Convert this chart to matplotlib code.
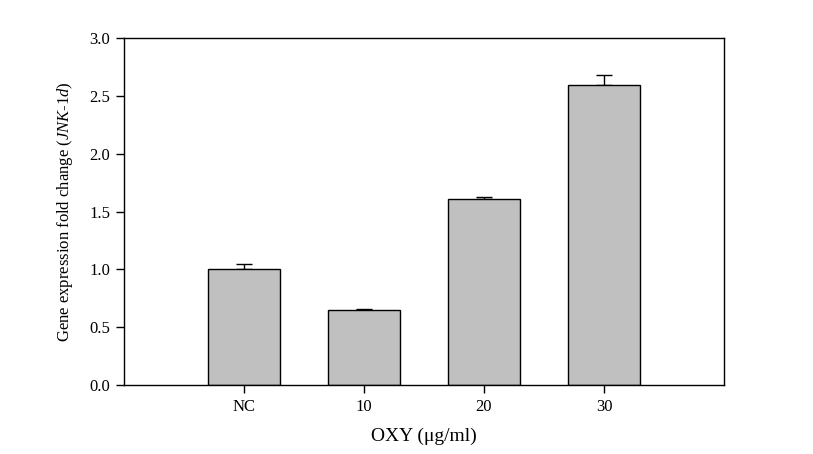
import numpy as np
import matplotlib.pyplot as plt

plt.rcParams['font.family'] = ['Liberation Serif', 'DejaVu Serif']
plt.rcParams['mathtext.fontset'] = 'custom'
plt.rcParams['mathtext.it'] = 'Liberation Serif:italic'
plt.rcParams['mathtext.rm'] = 'Liberation Serif'

categories = ["NC", "10", "20", "30"]
values = [1.00, 0.646, 1.606, 2.595]
errors = [0.05, 0.015, 0.018, 0.085]

fig = plt.figure(figsize=(8.13, 4.54), dpi=100)
ax = fig.add_axes([124 / 813, 1 - 385 / 454, 600 / 813, 347 / 454])

x = np.arange(len(categories))
ax.bar(x, values, 0.6, color="#c0c0c0", edgecolor="black", linewidth=1.0, zorder=2)
ax.errorbar(x, values, yerr=[np.zeros(len(errors)), errors], fmt="none",
            ecolor="black", elinewidth=1.0, capsize=6, capthick=1.0, zorder=1)

ax.set_xlim(-1, 4)
ax.set_ylim(0, 3.0)
ax.set_xticks(x)
ax.set_xticklabels(categories, fontsize=12)
ax.set_yticks(np.arange(0, 3.01, 0.5))
ax.set_yticklabels(["%.1f" % v for v in np.arange(0, 3.01, 0.5)], fontsize=12)
ax.tick_params(direction="out", length=6, width=1.0, top=False, right=False, pad=4)
for s in ax.spines.values():
    s.set_linewidth(1.0)

ax.set_xlabel("OXY (\u03bcg/ml)", fontsize=14, labelpad=9)
ax.set_ylabel("Gene expression fold change ($\\it{JNK}$-$\\it{1d}$)", fontsize=12, labelpad=10)

plt.savefig("out.png", dpi=100)
